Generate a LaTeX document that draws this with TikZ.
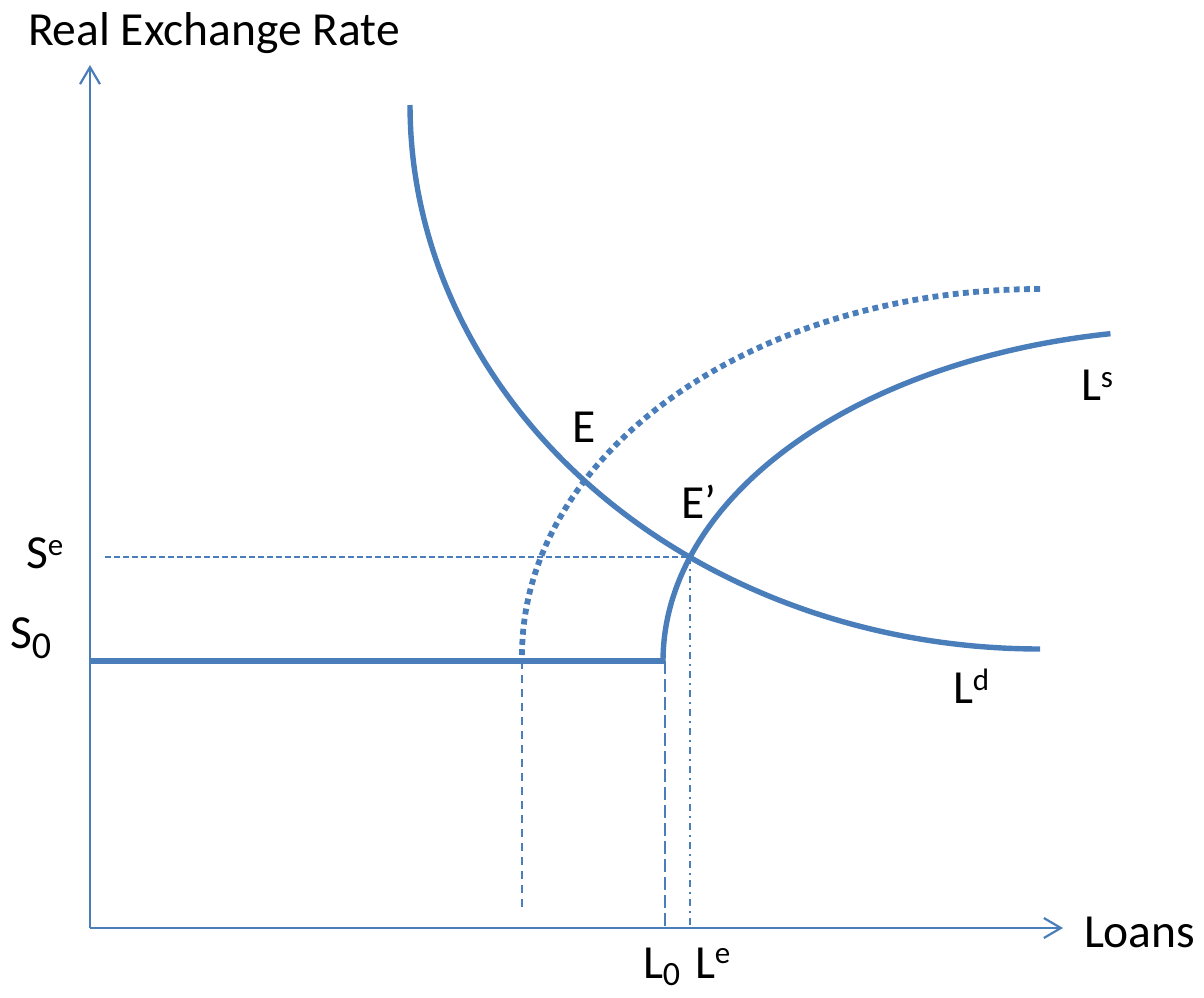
\documentclass[tikz,border=0pt]{standalone}
\usepackage{fontspec}
\setmainfont{Carlito}
\usetikzlibrary{arrows.meta}
\definecolor{lineblue}{HTML}{4A7EBB}
\newcommand{\bigfont}{\fontsize{47.5}{56}\selectfont}
\newcommand{\smallfont}{\fontsize{31}{36}\selectfont}
\newcommand{\supx}[2]{\raisebox{#1pt}{\smallfont #2}}
\begin{document}
\begin{tikzpicture}[x=1pt,y=-1pt,
  axis/.style={draw=lineblue,line width=2.2pt,-{Straight Barb[length=17pt,width=20pt,line width=2.2pt]}},
  thick curve/.style={draw=lineblue,line width=5.4pt},
  dotted curve/.style={draw=lineblue,line width=5.8pt,dash pattern=on 5.8pt off 4.4pt},
  guide/.style={draw=lineblue,line width=1.5pt,dash pattern=on 6pt off 3pt},
  guide2/.style={draw=lineblue,line width=1.8pt,dash pattern=on 8pt off 6pt},
  guide3/.style={draw=lineblue,line width=2.1pt,dash pattern=on 13pt off 5pt},
  dashdot/.style={draw=lineblue,line width=1.6pt,dash pattern=on 7pt off 5pt on 2pt off 5pt},
  lbl/.style={anchor=base west,inner sep=0pt,outer sep=0pt,text=black,font=\bigfont}]
\useasboundingbox (0,0) rectangle (1204,997);
% key points
\coordinate (O) at (90,928);
\coordinate (ytip) at (90,65);
\coordinate (xtip) at (1063,928);
\coordinate (s0left) at (90,661);
\coordinate (kink) at (664,661);
\coordinate (Ep) at (690,557);
\coordinate (seStart) at (105,557);
\coordinate (leFoot) at (690,928);
\coordinate (l0Top) at (665,661);
\coordinate (l0Foot) at (665,928);
\coordinate (dTop) at (522,661);
\coordinate (dFoot) at (522,908);
% axes
\draw[axis] (O) -- (ytip);
\draw[axis] (O) -- (xtip);
% guides
\draw[guide] (seStart) -- (Ep);
\draw[guide2] (dTop) -- (dFoot);
\draw[guide3] (l0Top) -- (l0Foot);
\draw[dashdot] (Ep) -- (leFoot);
% floor at S0
\draw[thick curve] (s0left) -- (kink);
% Ld curve
\draw[thick curve] plot[domain=180:90,samples=120,smooth] ({1040+630*cos(\x)},{105+544*sin(\x)});
% Ls solid
\draw[thick curve] plot[domain=180:99.6,samples=120,smooth] ({1200+537*cos(\x)},{661-332*sin(\x)});
% Ls dotted (shifted)
\draw[dotted curve] plot[domain=180:90,samples=120,smooth] ({1040+518*cos(\x)},{655-366*sin(\x)});
% labels
\node[lbl] (title) at (28,45) {Real Exchange Rate};
\node[lbl] (loans) at (1084,947) {Loans};
\node[lbl] (E) at (572,442) {E};
\node[lbl] (Eprime) at (681,518) {E’};
\node[lbl] (Ls) at (1081,400) {L\supx{13}{s}};
\node[lbl] (Ld) at (953,703) {L\supx{13}{d}};
\node[lbl] (Se) at (26,568) {S\supx{13}{e}};
\node[lbl] (S0) at (10,648) {S\supx{-10}{\fontsize{38}{40}\selectfont 0}};
\node[lbl] (L0) at (643,978) {L\supx{-7}{\fontsize{34}{40}\selectfont 0}};
\node[lbl] (Le) at (695,978) {L\supx{15}{e}};
\end{tikzpicture}
\end{document}
